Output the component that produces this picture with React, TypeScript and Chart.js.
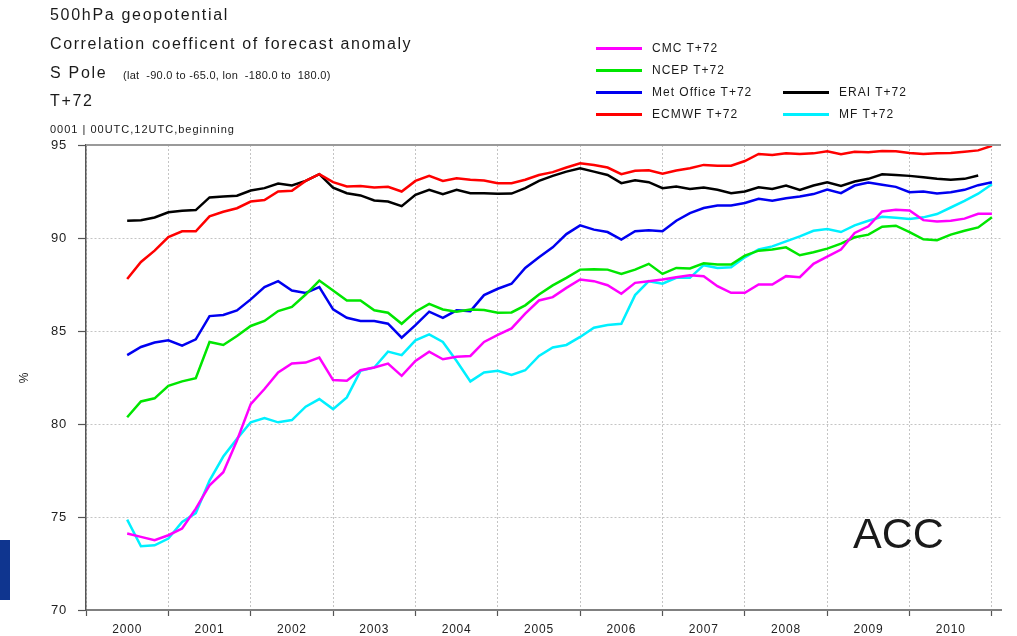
import React, { useEffect, useRef } from "react";
import { Chart, registerables } from "chart.js";

Chart.register(...registerables);

// Time of each point (decimal year, every 2 months)
const TIMES = [
  2000.5, 2000.667, 2000.833, 2001, 2001.167, 2001.333, 2001.5, 2001.667, 2001.833,
  2002, 2002.167, 2002.333, 2002.5, 2002.667, 2002.833, 2003, 2003.167, 2003.333,
  2003.5, 2003.667, 2003.833, 2004, 2004.167, 2004.333, 2004.5, 2004.667, 2004.833,
  2005, 2005.167, 2005.333, 2005.5, 2005.667, 2005.833, 2006, 2006.167, 2006.333,
  2006.5, 2006.667, 2006.833, 2007, 2007.167, 2007.333, 2007.5, 2007.667, 2007.833,
  2008, 2008.167, 2008.333, 2008.5, 2008.667, 2008.833, 2009, 2009.167, 2009.333,
  2009.5, 2009.667, 2009.833, 2010, 2010.167, 2010.333, 2010.5, 2010.667, 2010.833, 2011,
];

const CMC_T72 = [
  74.11, 73.93, 73.75, 74.02, 74.38, 75.45, 76.7, 77.41, 79.11, 81.07, 81.88, 82.77,
  83.25, 83.3, 83.57, 82.36, 82.32, 82.89, 83.04, 83.25, 82.59, 83.39, 83.89, 83.48, 83.61,
  83.66, 84.41, 84.79, 85.14, 85.93, 86.64, 86.82, 87.32, 87.77, 87.68, 87.46, 87.0, 87.59,
  87.68, 87.77, 87.89, 88.0, 87.95, 87.41, 87.05, 87.05, 87.5, 87.5, 87.95, 87.89, 88.61,
  89.0, 89.38, 90.27, 90.63, 91.43, 91.52, 91.48, 90.96, 90.89, 90.93, 91.04, 91.3, 91.3,
];

const NCEP_T72 = [
  80.36, 81.21, 81.38, 82.05, 82.29, 82.46, 84.41, 84.25, 84.73, 85.27, 85.54, 86.07,
  86.3, 86.96, 87.71, 87.18, 86.64, 86.64, 86.11, 85.98, 85.39, 86.04, 86.46, 86.16, 86.04,
  86.16, 86.13, 85.98, 86.0, 86.38, 86.96, 87.45, 87.86, 88.3, 88.32, 88.3, 88.07, 88.3,
  88.61, 88.07, 88.39, 88.36, 88.64, 88.57, 88.57, 89.05, 89.32, 89.38, 89.5, 89.07, 89.23,
  89.43, 89.7, 90.04, 90.18, 90.61, 90.66, 90.32, 89.93, 89.88, 90.18, 90.39, 90.57, 91.11,
];

const METOFFICE_T72 = [
  83.7, 84.14, 84.38, 84.5, 84.21, 84.55, 85.8, 85.86, 86.11, 86.7, 87.36, 87.68,
  87.18, 87.05, 87.36, 86.16, 85.71, 85.54, 85.54, 85.39, 84.64, 85.32, 86.04, 85.71, 86.11,
  86.07, 86.93, 87.27, 87.54, 88.39, 88.96, 89.5, 90.21, 90.68, 90.45, 90.32, 89.91, 90.36,
  90.41, 90.36, 90.93, 91.34, 91.61, 91.75, 91.75, 91.88, 92.11, 92.0, 92.14, 92.23, 92.36,
  92.6, 92.41, 92.82, 92.98, 92.86, 92.75, 92.46, 92.5, 92.39, 92.46, 92.59, 92.84, 93.0,
];

const ECMWF_T72 = [
  87.8, 88.71, 89.32, 90.05, 90.36, 90.36, 91.16, 91.41, 91.6, 91.96, 92.04, 92.5,
  92.54, 93.07, 93.43, 93.0, 92.77, 92.8, 92.71, 92.75, 92.5, 93.07, 93.34, 93.07, 93.21,
  93.13, 93.09, 92.95, 92.95, 93.13, 93.39, 93.54, 93.79, 94.02, 93.93, 93.79, 93.43, 93.61,
  93.64, 93.45, 93.63, 93.75, 93.93, 93.89, 93.89, 94.14, 94.52, 94.46, 94.55, 94.52, 94.55,
  94.66, 94.5, 94.64, 94.61, 94.68, 94.66, 94.57, 94.52, 94.55, 94.57, 94.64, 94.71, 94.96,
];

const ERAI_T72 = [
  90.93, 90.96, 91.1, 91.38, 91.46, 91.5, 92.18, 92.23, 92.27, 92.55, 92.68, 92.93,
  92.82, 93.07, 93.43, 92.71, 92.41, 92.29, 92.02, 91.96, 91.71, 92.32, 92.59, 92.36, 92.59,
  92.41, 92.41, 92.38, 92.39, 92.68, 93.07, 93.34, 93.57, 93.75, 93.57, 93.39, 92.95, 93.11,
  93.0, 92.68, 92.77, 92.64, 92.71, 92.59, 92.41, 92.5, 92.73, 92.64, 92.82, 92.59, 92.82,
  93.0, 92.8, 93.04, 93.18, 93.43, 93.39, 93.34, 93.27, 93.18, 93.13, 93.18, 93.36, null,
];

const MF_T72 = [
  74.86, 73.43, 73.48, 73.84, 74.73, 75.21, 76.96, 78.25, 79.2, 80.09, 80.32, 80.09,
  80.21, 80.93, 81.34, 80.8, 81.43, 82.86, 83.04, 83.89, 83.7, 84.5, 84.82, 84.41, 83.39,
  82.29, 82.77, 82.86, 82.64, 82.89, 83.66, 84.11, 84.25, 84.68, 85.18, 85.32, 85.39, 86.93,
  87.68, 87.54, 87.86, 87.86, 88.54, 88.39, 88.43, 88.96, 89.38, 89.55, 89.82, 90.09, 90.39,
  90.48, 90.32, 90.68, 90.93, 91.14, 91.09, 91.02, 91.11, 91.29, 91.64, 92.0, 92.38, 92.89,
];

const YEAR_LABELS = ["2000", "2001", "2002", "2003", "2004", "2005", "2006", "2007", "2008", "2009", "2010"];
const Y_TICKS = [70, 75, 80, 85, 90, 95];
const X_MIN = 2000;
const X_MAX = 2011.11;

const SERIES_NAMES = ["CMC T+72", "NCEP T+72", "Met Office T+72", "ECMWF T+72", "ERAI T+72", "MF T+72"];
const SERIES_COLORS = ["#ff00ff", "#00e600", "#0000f0", "#ff0000", "#000000", "#00f0ff"];
const SERIES_DATA = [CMC_T72, NCEP_T72, METOFFICE_T72, ECMWF_T72, ERAI_T72, MF_T72];

const FONT = '"Liberation Sans", Arial, Helvetica, sans-serif';

function isWhole(v: number) {
  return Math.abs(v - Math.round(v)) < 0.01;
}

const framePlugin = {
  id: "frame",
  beforeDraw(chart: any) {
    chart.ctx.letterSpacing = "0.8px";
  },
  afterDraw(chart: any) {
    const { ctx, chartArea } = chart;
    ctx.save();
    ctx.strokeStyle = "#9a9a9a";
    ctx.lineWidth = 2;
    ctx.beginPath();
    ctx.moveTo(chartArea.left, chartArea.top);
    ctx.lineTo(chartArea.right, chartArea.top);
    ctx.stroke();
    ctx.restore();
  },
};

function Txt(props: { x: number; base: number; size: number; sp?: number; children: any; style?: any }) {
  const { x, base, size, sp = 0, children, style } = props;
  return (
    <div
      style={{
        position: "absolute",
        left: x,
        top: base - 0.8465 * size,
        fontSize: size,
        lineHeight: size + "px",
        letterSpacing: sp + "px",
        whiteSpace: "pre",
        ...style,
      }}
    >
      {children}
    </div>
  );
}

function LegendItem(props: { x: number; y: number; color: string; label: string }) {
  const { x, y, color, label } = props;
  return (
    <>
      <div style={{ position: "absolute", left: x, top: y - 1.5, width: 46, height: 3, background: color }} />
      <Txt x={x + 56} base={y + 4.3} size={12} sp={1}>
        {label}
      </Txt>
    </>
  );
}

export default function App() {
  const ref = useRef<HTMLCanvasElement | null>(null);

  useEffect(() => {
    if (!ref.current) return;
    const datasets = SERIES_DATA.map((arr, i) => ({
      label: SERIES_NAMES[i],
      data: TIMES.map((t, j) => ({ x: t, y: arr[j] })),
      borderColor: SERIES_COLORS[i],
      backgroundColor: SERIES_COLORS[i],
      borderWidth: 2.5,
      pointRadius: 0,
      tension: 0,
      fill: false,
      spanGaps: false,
    }));

    const chart = new Chart(ref.current, {
      type: "line",
      data: { datasets },
      plugins: [framePlugin],
      options: {
        animation: false,
        responsive: false,
        maintainAspectRatio: false,
        devicePixelRatio: 1,
        layout: { padding: { top: 145, right: 16, left: 0, bottom: 0 } },
        plugins: { legend: { display: false }, tooltip: { enabled: false } },
        scales: {
          x: {
            type: "linear",
            min: X_MIN,
            max: X_MAX,
            afterFit: (s: any) => {
              s.height = 26;
            },
            afterBuildTicks: (s: any) => {
              const t: any[] = [];
              YEAR_LABELS.forEach((y) => {
                t.push({ value: Number(y) });
                t.push({ value: Number(y) + 0.5 });
              });
              t.push({ value: Number(YEAR_LABELS[YEAR_LABELS.length - 1]) + 1 });
              s.ticks = t;
            },
            ticks: {
              autoSkip: false,
              maxRotation: 0,
              minRotation: 0,
              padding: 6,
              color: "#222",
              font: { family: FONT, size: 12 },
              callback: (v: any) => {
                const n = Number(v);
                if (isWhole(n)) return "";
                const lab = String(Math.floor(n));
                return YEAR_LABELS.includes(lab) ? lab : "";
              },
            },
            grid: {
              color: (c: any) => (c.tick && isWhole(c.tick.value) ? "#c4c4c4" : "rgba(0,0,0,0)"),
              tickColor: (c: any) => (c.tick && isWhole(c.tick.value) ? "#555" : "rgba(0,0,0,0)"),
              tickLength: 6,
              lineWidth: 1,
              tickWidth: 1.2,
            },
            border: { display: true, color: "#808080", width: 2, dash: [2, 2] },
          },
          y: {
            type: "linear",
            min: Y_TICKS[0],
            max: Y_TICKS[Y_TICKS.length - 1],
            afterFit: (s: any) => {
              s.width = 86;
            },
            afterBuildTicks: (s: any) => {
              s.ticks = Y_TICKS.map((v) => ({ value: v }));
            },
            ticks: {
              padding: 11,
              color: "#222",
              font: { family: FONT, size: 13 },
              callback: (v: any) => String(v),
            },
            grid: {
              color: (c: any) => (c.tick && (c.tick.value === 70 || c.tick.value === 95) ? "rgba(0,0,0,0)" : "#c4c4c4"),
              tickColor: "#555",
              tickLength: 8,
              lineWidth: 1,
              tickWidth: 1.2,
            },
            border: { display: true, color: "#555", width: 1.5, dash: [2, 2] },
          },
        },
      } as any,
    });
    return () => chart.destroy();
  }, []);

  return (
    <div
      style={{
        position: "absolute",
        left: 0,
        top: 0,
        width: 1017,
        height: 636,
        background: "#fff",
        fontFamily: FONT,
        color: "#1a1a1a",
        overflow: "hidden",
      }}
    >
      <canvas ref={ref} width={1017} height={636} style={{ position: "absolute", left: 0, top: 0 }} />

      <Txt x={50} base={21} size={16} sp={1.7}>500hPa geopotential</Txt>
      <Txt x={50} base={50} size={16} sp={1.6}>Correlation coefficent of forecast anomaly</Txt>
      <Txt x={50} base={79} size={16} sp={1.7}>S Pole</Txt>
      <Txt x={123} base={79} size={11} sp={0.3}>(lat  -90.0 to -65.0, lon  -180.0 to  180.0)</Txt>
      <Txt x={50} base={107} size={16} sp={1.7}>T+72</Txt>
      <Txt x={50} base={133} size={11} sp={1}>0001 | 00UTC,12UTC,beginning</Txt>

      <LegendItem x={596} y={48} color={SERIES_COLORS[0]} label={SERIES_NAMES[0]} />
      <LegendItem x={596} y={70} color={SERIES_COLORS[1]} label={SERIES_NAMES[1]} />
      <LegendItem x={596} y={92} color={SERIES_COLORS[2]} label={SERIES_NAMES[2]} />
      <LegendItem x={596} y={114} color={SERIES_COLORS[3]} label={SERIES_NAMES[3]} />
      <LegendItem x={783} y={92} color={SERIES_COLORS[4]} label={SERIES_NAMES[4]} />
      <LegendItem x={783} y={114} color={SERIES_COLORS[5]} label={SERIES_NAMES[5]} />

      <div
        style={{
          position: "absolute",
          left: 19,
          top: 371,
          fontSize: 12,
          lineHeight: "14px",
          transform: "rotate(-90deg)",
        }}
      >
        %
      </div>

      <Txt x={853} base={548} size={43}>ACC</Txt>

      <div style={{ position: "absolute", left: 0, top: 540, width: 10, height: 60, background: "#0f358f" }} />
    </div>
  );
}
